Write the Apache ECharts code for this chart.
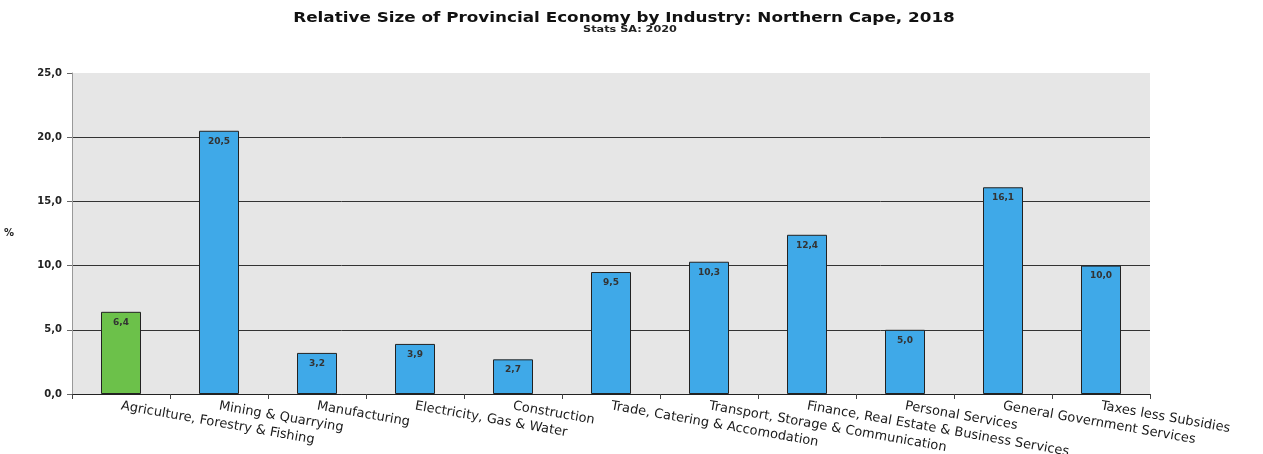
<!DOCTYPE html>
<html><head><meta charset="utf-8">
<script src="https://cdn.jsdelivr.net/npm/echarts@6/dist/echarts.min.js"></script>
<style>html,body{margin:0;padding:0;background:#fff}#c{width:1263px;height:454px}</style>
</head><body><div id="c"></div>
<script>
const titleText = 'Relative Size of Provincial Economy by Industry: Northern Cape, 2018';
const subtitleText = 'Stats SA: 2020';
const categories = ["Agriculture, Forestry & Fishing","Mining & Quarrying","Manufacturing","Electricity, Gas & Water","Construction","Trade, Catering & Accomodation","Transport, Storage & Communication","Finance, Real Estate & Business Services","Personal Services","General Government Services","Taxes less Subsidies"];
const values = [6.4, 20.5, 3.2, 3.9, 2.7, 9.5, 10.3, 12.4, 5.0, 16.1, 10.0];
const highlightIndex = [0];
const yTicks = [0, 5, 10, 15, 20, 25];

const chart = echarts.init(document.getElementById('c'));
chart.setOption({
  animation: false,
  backgroundColor: '#fff',
  graphic: [
    {type: 'text', x: 624, y: 18, scaleX: 1.2, style: {text: titleText, align: 'center', verticalAlign: 'middle',
      font: 'bold 14px "DejaVu Sans"', fill: '#111'}},
    {type: 'text', x: 630, y: 30, scaleX: 1.25, style: {text: subtitleText, align: 'center', verticalAlign: 'middle',
      font: 'bold 9px "DejaVu Sans"', fill: '#222'}}
  ],
  grid: {left: 72, right: 113, top: 73, bottom: 60, show: true, backgroundColor: '#e6e6e6', borderWidth: 0,
    outerBoundsMode: 'none', containLabel: false},
  xAxis: {
    type: 'category', data: categories,
    axisLine: {lineStyle: {color: '#222', width: 1}},
    axisTick: {show: true, alignWithLabel: false, lineStyle: {color: '#444'}},
    axisLabel: {rotate: -10, interval: 0, margin: 12, fontFamily: 'DejaVu Sans', fontSize: 13, color: '#1a1a1a'}
  },
  yAxis: {
    type: 'value', min: yTicks[0], max: yTicks[yTicks.length-1], interval: 5,
    name: '%', nameLocation: 'middle', nameRotate: 0, nameGap: 58,
    nameTextStyle: {fontFamily: 'DejaVu Sans', fontSize: 10, fontWeight: 'bold', color: '#222'},
    axisLine: {show: true, lineStyle: {color: '#999'}},
    axisTick: {show: true, length: 5, lineStyle: {color: '#666'}},
    axisLabel: {margin: 10, fontFamily: 'DejaVu Sans', fontSize: 10, fontWeight: 'bold', color: '#222',
      formatter: v => v.toFixed(1).replace('.', ',')},
    splitLine: {show: true, lineStyle: {color: ['#333','#333','#333','#333','#333','#e6e6e6'], width: 1}}
  },
  series: [{
    type: 'bar', barWidth: 40,
    data: values.map((v, i) => ({value: v, itemStyle: {color: highlightIndex.includes(i) ? '#6cc14a' : '#3fa9e8'}})),
    itemStyle: {borderColor: '#222', borderWidth: 1},
    label: {show: true, position: 'insideTop', distance: 6, fontFamily: 'DejaVu Sans', fontSize: 9, fontWeight: 'bold', color: '#333',
      formatter: p => p.value.toFixed(1).replace('.', ',')}
  }]
});
</script></body></html>
